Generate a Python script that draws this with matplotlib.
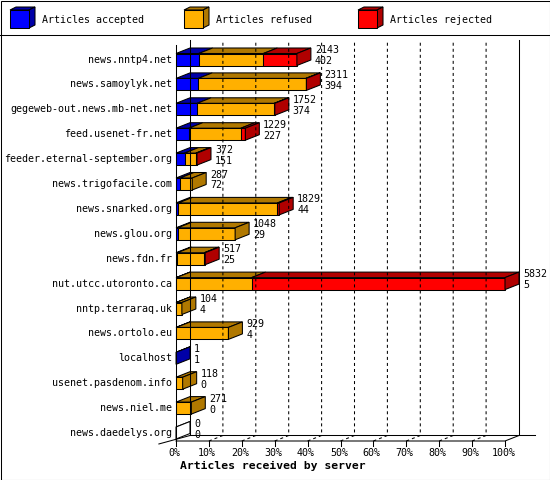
import matplotlib
matplotlib.use('Agg')
import matplotlib.pyplot as plt
from matplotlib.patches import Rectangle, Polygon

# Servers, top to bottom
servers = ['news.nntp4.net', 'news.samoylyk.net', 'gegeweb-out.news.mb-net.net',
           'feed.usenet-fr.net', 'feeder.eternal-september.org', 'news.trigofacile.com',
           'news.snarked.org', 'news.glou.org', 'news.fdn.fr', 'nut.utcc.utoronto.ca',
           'nntp.terraraq.uk', 'news.ortolo.eu', 'localhost', 'usenet.pasdenom.info',
           'news.niel.me', 'news.daedelys.org']
# total offered (upper label) and accepted (lower label)
offered = [2143, 2311, 1752, 1229, 372, 287, 1829, 1048, 517, 5832, 104, 929, 1, 118, 271, 0]
accepted = [402, 394, 374, 227, 151, 72, 44, 29, 25, 5, 4, 4, 1, 0, 0, 0]
# rejected, refused is the rest
rejected = [595, 10, 10, 80, 20, 0, 30, 0, 15, 4492, 0, 0, 0, 0, 0, 0]
refused = [o - a - r for o, a, r in zip(offered, accepted, rejected)]

series = ['Articles accepted', 'Articles refused', 'Articles rejected']
face = ['#0000ff', '#ffb000', '#ff0000']
dark = ['#0000a8', '#b07800', '#b00000']
ticks = list(range(0, 101, 10))

W, Hpx = 550, 480
fig = plt.figure(figsize=(W / 100, Hpx / 100), dpi=100)
FONT = 'DejaVu Sans Mono'
LW = 0.75

# background / legend layer in pixel coords
bg = fig.add_axes([0, 0, 1, 1])
bg.set_xlim(0, W)
bg.set_ylim(Hpx, 0)
bg.axis('off')
bg.add_patch(Rectangle((0.5, 0.5), W - 1, Hpx - 1, fill=False, ec='black', lw=LW))
bg.plot([0, W], [35, 35], color='black', lw=LW)
for k, (name, fc, dc) in enumerate(zip(series, face, dark)):
    x0 = 10 + 174 * k
    bg.add_patch(Polygon([(x0, 10), (x0 + 19, 10), (x0 + 25, 7), (x0 + 6, 7)],
                         closed=True, fc=dc, ec='black', lw=LW))
    bg.add_patch(Polygon([(x0 + 19, 10), (x0 + 25, 7), (x0 + 25, 25), (x0 + 19, 28)],
                         closed=True, fc=dc, ec='black', lw=LW))
    bg.add_patch(Rectangle((x0, 10), 19, 18, fc=fc, ec='black', lw=LW))
    bg.text(x0 + 32, 20, name, fontsize=7.2, family=FONT, va='center', ha='left')

# main 3D-ish plot in data coords (x = percent of max, y = row)
ax = fig.add_axes([176 / W, 39 / Hpx, 329 / W, 406 / Hpx])
ax.set_facecolor('none')
ax.axis('off')
y_front, y_top = 15.321, -0.984
ax.set_xlim(0, 100)
ax.set_ylim(y_front, y_top)
DX, DY, H = 4.255, 0.221, 0.241
y_back = y_front - DY
wall_top = -0.783

# walls and floor
for t in ticks[1:-1]:
    ax.plot([t, t + DX, t + DX], [y_front, y_back, wall_top], color='black', lw=LW,
            linestyle=(0, (2.9, 2.9)), clip_on=False)
ax.plot([DX, DX], [y_back, wall_top], color='black', lw=LW, clip_on=False)
ax.plot([100 + DX, 100 + DX], [y_back, wall_top], color='black', lw=LW, clip_on=False)
ax.plot([DX, 100 + DX + 4.9], [y_back, y_back], color='black', lw=LW, clip_on=False)
ax.plot([0, 100, 100 + DX], [y_front, y_front, y_back], color='black', lw=LW, clip_on=False)
ax.plot([0, 0], [y_front, -0.58], color='black', lw=LW, clip_on=False)
ax.plot([-5.2, DX], [15.44, y_back], color='black', lw=LW, clip_on=False)
for t in ticks:
    ax.plot([t, t], [y_front, y_front + 0.2], color='black', lw=LW, clip_on=False)
    ax.text(t - 0.5, 15.8, f'{t}%', fontsize=7.2, family=FONT, ha='center', va='center')

fig.text(180 / W, 1 - 466 / Hpx, 'Articles received by server', fontsize=8.2,
         family=FONT, fontweight='bold', ha='left', va='center')

vmax = max(offered)
for i, name in enumerate(servers):
    vals = [accepted[i], refused[i], rejected[i]]
    x = 0.0
    last = None
    top = i - H
    for v, fc, dc in zip(vals, face, dark):
        if v <= 0:
            continue
        w = v / vmax * 100
        ax.add_patch(Polygon([(x, top), (x + w, top), (x + w + DX, top - DY), (x + DX, top - DY)],
                             closed=True, fc=dc, ec='black', lw=LW, clip_on=False))
        ax.add_patch(Rectangle((x, top), w, 2 * H, fc=fc, ec='black', lw=LW, clip_on=False))
        x += w
        last = dc
    side_c = last if last is not None else 'white'
    if last is None:
        ax.add_patch(Polygon([(0, top), (DX, top - DY)], closed=False, fill=False,
                             ec='black', lw=LW, clip_on=False))
    ax.add_patch(Polygon([(x, top), (x + DX, top - DY), (x + DX, i + H - DY), (x, i + H)],
                         closed=True, fc=side_c, ec='black', lw=LW, clip_on=False))
    ax.text(-1.2, i, name, fontsize=7.2, family=FONT, ha='right', va='center')
    ax.text(x + DX + 1.2, i - 0.38, str(offered[i]), fontsize=7.2, family=FONT,
            ha='left', va='center')
    ax.text(x + DX + 1.2, i + 0.06, str(accepted[i]), fontsize=7.2, family=FONT,
            ha='left', va='center')

fig.savefig('out.png', dpi=100)
